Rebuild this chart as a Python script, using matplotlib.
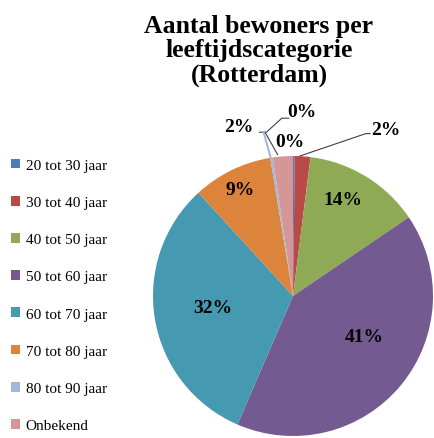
import numpy as np
import matplotlib
matplotlib.use('Agg')
import matplotlib.pyplot as plt

# data (percent of residents)
categories = ['20 tot 30 jaar', '30 tot 40 jaar', '40 tot 50 jaar', '50 tot 60 jaar',
              '60 tot 70 jaar', '70 tot 80 jaar', '80 tot 90 jaar', 'Onbekend']
values = [0.2, 1.8, 13.5, 41.0, 31.7, 9.2, 0.3, 2.3]
shown = ['0%', '2%', '14%', '41%', '32%', '9%', '0%', '2%']
colors = ['#4A7EBB', '#B84A47', '#8FAA54', '#735A91', '#4599B0', '#DC843C', '#A3B8DE', '#D69596']

plt.rcParams['font.family'] = ['Liberation Serif', 'DejaVu Serif']

fig = plt.figure(figsize=(4.34, 4.39), dpi=100)
ax = fig.add_axes([153/434, 2/439, 280/434, 280/439])

wedges, _ = ax.pie(values, colors=colors, startangle=90, counterclock=False,
                   radius=1, wedgeprops=dict(linewidth=0))
ax.set_xlim(-1, 1)
ax.set_ylim(-1, 1)
ax.set_aspect('equal')
ax.axis('off')

# label spots (pie units), Excel "best fit" style
spots = [(-0.02, 1.10), (0.56, 1.19), (0.36, 0.69), (0.51, -0.29),
         (-0.57, -0.08), (-0.38, 0.76), (0.06, 1.32), (-0.39, 1.21)]
for i, (txt, (x, y)) in enumerate(zip(shown, spots)):
    ha = 'left' if i == 1 else 'center'
    ax.text(x, y, txt, ha=ha, va='center', fontsize=14, fontweight='bold', color='black')

# leader lines
ax.plot([0.05, 0.52, 0.55], [1.0, 1.16, 1.16], color='#404040', lw=0.8, clip_on=False)
ax.plot([-0.11, -0.20], [1.01, 1.17], color='#404040', lw=0.8, clip_on=False)
ax.plot([-0.24, -0.19, -0.08, -0.03], [1.17, 1.17, 1.27, 1.27], color='#404040', lw=0.8, clip_on=False)
ax.plot([-0.16, -0.21], [0.99, 1.17], color=colors[6], lw=1.5, clip_on=False)

fig.text(259/434, 1 - 51/439, 'Aantal bewoners per\nleeftijdscategorie\n(Rotterdam)',
         ha='center', va='center', fontsize=18.5, fontweight='bold', linespacing=1.08)

fig.legend(wedges, categories, loc='upper left', bbox_to_anchor=(0.015, 1 - 155/439),
           frameon=False, fontsize=11, labelspacing=1.57, handlelength=0.6,
           handleheight=0.6, handletextpad=0.35, borderaxespad=0, borderpad=0.3)

fig.savefig('out.png', dpi=100)
